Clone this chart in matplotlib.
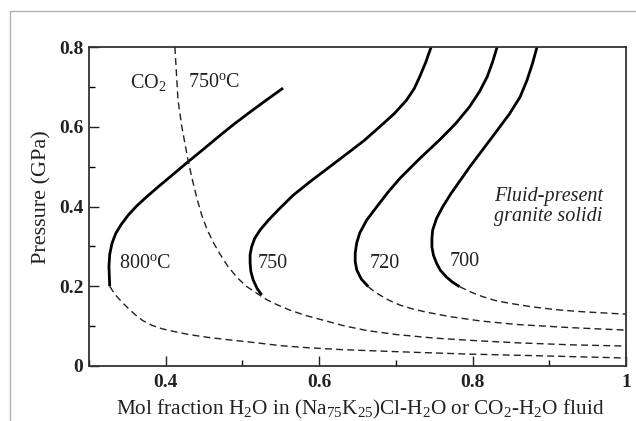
import matplotlib
matplotlib.use("Agg")
import matplotlib.pyplot as plt
from matplotlib.patches import Rectangle
from matplotlib.ticker import MultipleLocator

plt.rcParams['font.family'] = ['Liberation Serif', 'DejaVu Serif']
plt.rcParams['mathtext.fontset'] = 'custom'
plt.rcParams['mathtext.rm'] = 'Liberation Serif'
plt.rcParams['mathtext.it'] = 'Liberation Serif:italic'

# solidus curves in (Na,K)Cl-H2O fluid (x = mol fraction H2O, y = GPa)
x_800 = [0.327, 0.326, 0.327, 0.330, 0.335, 0.342, 0.351, 0.362, 0.375, 0.390, 0.408, 0.429,
         0.450, 0.470, 0.488, 0.510, 0.532, 0.553]
y_800 = [0.200, 0.250, 0.280, 0.308, 0.333, 0.355, 0.378, 0.401, 0.424, 0.449, 0.478, 0.512,
         0.545, 0.577, 0.605, 0.637, 0.668, 0.697]

x_750 = [0.525, 0.519, 0.514, 0.511, 0.510, 0.510, 0.512, 0.516, 0.523, 0.534, 0.548, 0.566,
         0.588, 0.612, 0.636, 0.659, 0.679, 0.698, 0.714, 0.724, 0.731, 0.739, 0.746]
y_750 = [0.178, 0.195, 0.216, 0.237, 0.258, 0.279, 0.299, 0.320, 0.341, 0.366, 0.394, 0.428,
         0.462, 0.497, 0.532, 0.566, 0.600, 0.633, 0.667, 0.696, 0.725, 0.762, 0.800]

x_720 = [0.664, 0.655, 0.649, 0.647, 0.647, 0.649, 0.653, 0.662, 0.675, 0.689, 0.705, 0.731,
         0.757, 0.778, 0.796, 0.809, 0.819, 0.826, 0.832]
y_720 = [0.199, 0.218, 0.241, 0.262, 0.283, 0.309, 0.334, 0.366, 0.399, 0.434, 0.470, 0.520,
         0.567, 0.608, 0.650, 0.688, 0.725, 0.762, 0.800]

x_700 = [0.783, 0.774, 0.766, 0.758, 0.753, 0.749, 0.747, 0.747, 0.748, 0.753, 0.761, 0.771,
         0.783, 0.797, 0.813, 0.831, 0.848, 0.862, 0.871, 0.878, 0.884]
y_700 = [0.199, 0.210, 0.223, 0.240, 0.258, 0.278, 0.299, 0.320, 0.341, 0.370, 0.399, 0.430,
         0.463, 0.501, 0.542, 0.588, 0.632, 0.675, 0.717, 0.758, 0.800]

# dashed extrapolations and the CO2-H2O 750 C solidus
x_co2 = [0.412, 0.414, 0.416, 0.421, 0.429, 0.435, 0.441, 0.447, 0.454, 0.462, 0.471, 0.481,
         0.493, 0.505, 0.519, 0.532, 0.546, 0.562, 0.582, 0.605, 0.632, 0.662, 0.700, 0.750,
         0.800, 0.860, 0.930, 1.0]
y_co2 = [0.800, 0.733, 0.667, 0.600, 0.517, 0.465, 0.418, 0.378, 0.342, 0.310, 0.280, 0.250,
         0.222, 0.200, 0.182, 0.166, 0.153, 0.140, 0.127, 0.115, 0.101, 0.089, 0.079, 0.070,
         0.064, 0.058, 0.053, 0.050]

x_800d = [0.327, 0.331, 0.336, 0.343, 0.351, 0.360, 0.370, 0.382, 0.396, 0.412, 0.430, 0.454,
          0.485, 0.519, 0.550, 0.584, 0.630, 0.700, 0.792, 0.900, 1.0]
y_800d = [0.200, 0.188, 0.175, 0.160, 0.145, 0.129, 0.114, 0.102, 0.093, 0.086, 0.079, 0.072,
          0.065, 0.058, 0.051, 0.046, 0.041, 0.036, 0.030, 0.025, 0.020]

x_720d = [0.664, 0.671, 0.679, 0.691, 0.705, 0.722, 0.740, 0.770, 0.810, 0.858, 0.930, 1.0]
y_720d = [0.199, 0.188, 0.178, 0.165, 0.153, 0.143, 0.135, 0.124, 0.113, 0.104, 0.096, 0.090]

x_700d = [0.783, 0.797, 0.813, 0.830, 0.849, 0.879, 0.910, 0.944, 1.0]
y_700d = [0.199, 0.186, 0.174, 0.164, 0.157, 0.148, 0.141, 0.136, 0.130]

fig = plt.figure(figsize=(6.36, 4.21), dpi=100)
# light grey frame round the figure
fig.patches.append(Rectangle((10/636, -0.5), 2.0, 1.5 - 11/421, transform=fig.transFigure,
                             fill=False, edgecolor='#b0b0b0', linewidth=1.0))
ax = fig.add_axes([89/636, 55/421, 537/636, 319/421])

for xs, ys in [(x_800, y_800), (x_750, y_750), (x_720, y_720), (x_700, y_700)]:
    ax.plot(xs, ys, color='black', linewidth=2.0, solid_capstyle='butt', solid_joinstyle='round')

for xs, ys in [(x_co2, y_co2), (x_800d, y_800d), (x_720d, y_720d), (x_700d, y_700d)]:
    ax.plot(xs, ys, color='#222222', linewidth=1.0, dashes=(5, 3))

ax.set_xlim(0.3, 1.0)
ax.set_ylim(0, 0.8)
ax.xaxis.set_minor_locator(MultipleLocator(0.1))
ax.yaxis.set_minor_locator(MultipleLocator(0.1))
ax.set_xticks([0.4, 0.6, 0.8, 1.0])
ax.set_xticklabels(['0.4', '0.6', '0.8', '1'])
ax.set_yticks([0, 0.2, 0.4, 0.6, 0.8])
ax.set_yticklabels(['0', '0.2', '0.4', '0.6', '0.8'])
ax.tick_params(which='major', direction='in', length=7, width=1.0, labelsize=14, colors='#222222')
ax.tick_params(axis='x', which='major', pad=6)
ax.tick_params(axis='y', which='major', pad=4)
ax.tick_params(which='minor', direction='in', length=4.5, width=1.0)
for lab in ax.get_xticklabels() + ax.get_yticklabels():
    lab.set_fontweight('bold')
for s in ax.spines.values():
    s.set_linewidth(1.3)
    s.set_color('#333333')

ax.set_ylabel('Pressure (GPa)', fontsize=16, color='#222222', va='center')
ax.yaxis.set_label_coords(-0.0875, 0.528)
ax.set_xlabel('Mol fraction H$_2$O in (Na$_{75}$K$_{25}$)Cl-H$_2$O or CO$_2$-H$_2$O fluid',
              fontsize=15.3, color='#222222', va='center')
ax.xaxis.set_label_coords(0.505, -0.135)

tk = dict(fontsize=14.5, color='#222222', va='center')
ax.text(0.353, 0.712, 'CO$_2$', **tk)
ax.text(0.429, 0.712, '750$^{\\mathrm{o}}$C', **tk)
ax.text(0.339, 0.258, '800$^{\\mathrm{o}}$C', **tk)
ax.text(0.520, 0.258, '750', **tk)
ax.text(0.666, 0.258, '720', **tk)
ax.text(0.770, 0.263, '700', **tk)
ax.text(0.899, 0.400, 'Fluid-present\ngranite solidi', fontsize=14.5, style='italic',
        color='#222222', ha='center', va='center', linespacing=1.1)

fig.savefig('out.png', dpi=100)
